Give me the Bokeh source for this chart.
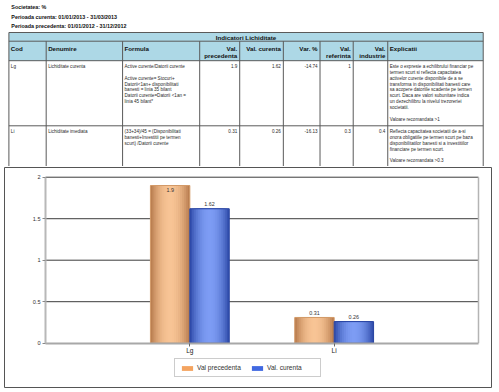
from bokeh.plotting import figure
from bokeh.models import Range1d, LinearAxis, FixedTicker, Legend, LegendItem
from bokeh.layouts import column
from bokeh.embed import file_html
from bokeh.resources import INLINE
from bokeh.core.properties import value

# ---------------- data ----------------
societate = "Societatea: %"
perioada_curenta = "Perioada curenta: 01/01/2013 - 31/03/2013"
perioada_precedenta = "Perioada precedenta: 01/01/2012 - 31/12/2012"
table_title = "Indicatori Lichiditate"
header_labels = ["Cod", "Denumire", "Formula", "Val.\nprecedenta", "Val. curenta",
                 "Var. %", "Val.\nreferinta", "Val.\nindustrie", "Explicatii"]
categories = ["Lg", "Li"]
denumiri = ["Lichiditate curenta", "Lichiditate imediata"]
formule = [
    ["Active curente/Datorii curente", "", "Active curente= Stocuri+",
     "Datorii<1an+ disponibilitati", "banesti = linia 35 bilant",
     "Datorii curente=Datorii <1an =", "linia 45 bilant*"],
    ["(33+34)/45 = (Disponibilitati", "banesti+Investitii pe termen",
     "scurt) /Datorii curente"],
]
val_precedenta = [1.9, 0.31]
val_curenta = [1.62, 0.26]
var_procent = [-14.74, -16.13]
val_referinta = [1, 0.3]
val_industrie = [None, 0.4]
explicatii = [
    ["Este o expresie a echilibrului financiar pe",
     "termen scurt si reflecta capacitatea",
     "activelor curente disponibile de a se",
     "transforma in disponibilitati banesti care",
     "sa acopere datoriile scadente pe termen",
     "scurt. Daca are valori subunitare indica",
     "un dezechilibru la nivelul trezoreriei",
     "societatii.", "", "Valoare recomandata >1"],
    ["Reflecta capacitatea societatii de a-si",
     "onora obligatiile pe termen scurt pe baza",
     "disponibilitatilor banesti si a investitiilor",
     "financiare pe termen scurt.", "", "Valoare recomandata >0.3"],
]
series_names = ["Val precedenta", "Val. curenta"]
series_values = [val_precedenta, val_curenta]
y_ticks = [0, 0.5, 1, 1.5, 2]
y_tick_labels = ["0", "0.5", "1", "1.5", "2"]

# ---------------- helpers ----------------
FONT_NAME = "Liberation Sans"
FONT = value(FONT_NAME)
W, H1, H2 = 499, 166, 226


def mix(c1, c2, f):
    a = [int(c1[i:i + 2], 16) for i in (1, 3, 5)]
    b_ = [int(c2[i:i + 2], 16) for i in (1, 3, 5)]
    return "#%02x%02x%02x" % tuple(int(round(x + (y - x) * f)) for x, y in zip(a, b_))


def fmt(v):
    return "" if v is None else f"{v:g}"


def txt(fig, xs, ys, texts, size, bold=False, align="left", color="#2b2b2b"):
    fig.text(x=xs, y=ys, text=texts, text_font=FONT, text_font_size=size,
             text_font_style="bold" if bold else "normal", text_align=align,
             text_baseline="middle", text_color=color)


# ---------------- top: header + table ----------------
t = figure(width=W, height=H1, x_range=Range1d(0, W), y_range=Range1d(H1, 0),
           x_axis_type=None, y_axis_type=None, output_backend="svg",
           toolbar_location=None, min_border=0, outline_line_color=None)

txt(t, [7, 7, 7], [6, 16, 25.3], [societate, perioada_curenta, perioada_precedenta],
    "5.4px", True, color="#111111")

cols = [4.5, 42.7, 121, 200, 241, 285.7, 323.3, 357.3, 392.7, 490.5]
Y_TOP, Y_TITLE, Y_HEAD, Y_BOT = 32, 40.7, 60.2, H1
row_tops = [Y_HEAD, 125.3]
LINE = "#5a5a5a"

t.quad(left=cols[0], right=cols[-1], top=Y_TOP, bottom=Y_HEAD,
       fill_color="#add8e6", line_color=None)
hy = [Y_TOP, Y_TITLE, Y_HEAD, row_tops[1]]
t.segment(x0=[cols[0]] * len(hy), x1=[cols[-1]] * len(hy), y0=hy, y1=hy,
          line_color=LINE, line_width=1)
vy0 = [Y_TOP] + [Y_TITLE] * (len(cols) - 2) + [Y_TOP]
t.segment(x0=cols, x1=cols, y0=vy0, y1=[Y_BOT] * len(cols), line_color=LINE, line_width=1)

txt(t, [(cols[0] + cols[-1]) / 2], [36.5], [table_title], "6.2px", True, "center", "#111111")

RIGHT_COLS = {3, 4, 5, 6, 7}
hx_l, hy_l, ht_l, hx_r, hy_r, ht_r = [], [], [], [], [], []
for i, lab in enumerate(header_labels):
    for j, line in enumerate(lab.split("\n")):
        if i in RIGHT_COLS:
            hx_r.append(cols[i + 1] - 2.5); hy_r.append(48 + j * 6.5); ht_r.append(line)
        else:
            hx_l.append(cols[i] + 2); hy_l.append(48 + j * 6.5); ht_l.append(line)
txt(t, hx_l, hy_l, ht_l, "6.2px", True, "left", "#111111")
txt(t, hx_r, hy_r, ht_r, "6.2px", True, "right", "#111111")

LS = 5.9
bx_l, by_l, bt_l, bx_r, by_r, bt_r = [], [], [], [], [], []
for r in range(len(categories)):
    cells = [[categories[r]], [denumiri[r]], formule[r], [fmt(val_precedenta[r])],
             [fmt(val_curenta[r])], [fmt(var_procent[r])], [fmt(val_referinta[r])],
             [fmt(val_industrie[r])], explicatii[r]]
    y0 = row_tops[r] + 5.6
    for i, lines in enumerate(cells):
        for j, line in enumerate(lines):
            if not line:
                continue
            if i in RIGHT_COLS:
                bx_r.append(cols[i + 1] - 2.5); by_r.append(y0 + j * LS); bt_r.append(line)
            else:
                bx_l.append(cols[i] + 2); by_l.append(y0 + j * LS); bt_l.append(line)
txt(t, bx_l, by_l, bt_l, "4.6px", False, "left")
txt(t, bx_r, by_r, bt_r, "4.6px", False, "right")

# ---------------- bottom: bar chart ----------------
n = len(categories)
cat_pos = list(range(1, n + 1))
x_lo, x_hi = 0, n + 1

b = figure(width=W, height=H2, x_range=Range1d(-0.2841, 3.0901), y_range=Range1d(-0.534, 2.117),
           x_axis_type=None, y_axis_type=None, output_backend="svg", toolbar_location=None,
           min_border_left=4, min_border_right=8, min_border_top=1, min_border_bottom=5,
           outline_line_color="#555555", outline_line_width=1)

b.segment(x0=[x_lo] * (len(y_ticks) - 1), x1=[x_hi] * (len(y_ticks) - 1),
          y0=y_ticks[1:], y1=y_ticks[1:], line_color="#3c3c3c", line_width=1)
b.segment(x0=[x_hi], x1=[x_hi], y0=[y_ticks[0]], y1=[y_ticks[-1]],
          line_color="#b4b4b4", line_width=1.5)

BW = 0.273
offsets = [-BW / 2, BW / 2]
edges = ["#b5784a", "#2b48a6"]
centers = ["#f7c495", "#7d9cf4"]
outlines = ["#d39a68", "#2642a0"]
swatches = ["#f4a460", "#4169e1"]
NL = 10
swatch_renderers = []
for s, vals in enumerate(series_values):
    xs = [p + offsets[s] for p in cat_pos]
    for k in range(NL):
        frac = 1 - k / NL
        tt = frac - 0.5 / NL
        b.vbar(x=xs, top=vals, bottom=0, width=BW * frac,
               fill_color=mix(edges[s], centers[s], 1 - tt ** 2), line_color=None)
    b.vbar(x=xs, top=vals, bottom=0, width=BW, fill_color=None,
           line_color=outlines[s], line_width=1)
    sw = b.vbar(x=xs, top=vals, bottom=0, width=BW, fill_color=swatches[s],
                line_color=None, visible=False)
    swatch_renderers.append(sw)

lx, ly, lt, lo = [], [], [], []
for s, vals in enumerate(series_values):
    for p, v in zip(cat_pos, vals):
        lx.append(p + offsets[s]); ly.append(v); lt.append(fmt(v))
        lo.append(4.8 if v > y_ticks[-1] - 0.12 else -4.5)
b.text(x=lx, y=ly, text=lt, y_offset=lo, text_align="center", text_baseline="middle",
       text_font=FONT, text_font_size="5.4px", text_color="#333333")

yaxis = LinearAxis(fixed_location=0, ticker=FixedTicker(ticks=y_ticks),
                   major_label_overrides=dict(zip(y_ticks, y_tick_labels)),
                   bounds=(y_ticks[0], y_ticks[-1]),
                   axis_line_color="#b8b8b8", axis_line_width=2,
                   major_tick_in=0, major_tick_out=3, major_tick_line_color="#888888",
                   minor_tick_line_color=None, major_label_standoff=2,
                   major_label_text_font=FONT_NAME, major_label_text_font_size="5.6px",
                   major_label_text_color="#333333")
b.add_layout(yaxis, "left")

xaxis = LinearAxis(fixed_location=0, ticker=FixedTicker(ticks=cat_pos),
                   major_label_overrides=dict(zip(cat_pos, categories)),
                   bounds=(x_lo, x_hi),
                   axis_line_color="#a8a8a8", axis_line_width=2,
                   major_tick_in=0, major_tick_out=3, major_tick_line_color="#666666",
                   minor_tick_line_color=None, major_label_standoff=1,
                   major_label_text_font=FONT_NAME, major_label_text_font_size="6.6px",
                   major_label_text_color="#222222")
b.add_layout(xaxis, "below")

legend = Legend(items=[LegendItem(label=series_names[i], renderers=[swatch_renderers[i]])
                       for i in range(len(series_names))],
                orientation="horizontal", location=(170, 9.7), margin=0, padding=5,
                spacing=5, glyph_width=14, glyph_height=6, label_height=6,
                label_width=48, label_standoff=3, label_text_font=FONT_NAME,
                label_text_font_size="6.6px", label_text_color="#333333",
                border_line_color="#999999", border_line_width=1,
                background_fill_color="white", inactive_fill_alpha=0)
b.add_layout(legend)

layout = column(t, b, spacing=0)
open("out.html", "w").write(file_html(layout, INLINE))
